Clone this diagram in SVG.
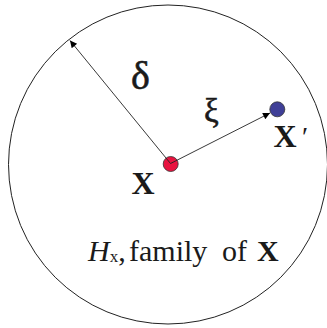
<svg xmlns="http://www.w3.org/2000/svg" width="327" height="328" viewBox="0 0 327 328">
<defs>
<marker id="arr" viewBox="0 0 10 10" refX="10" refY="5" markerWidth="9" markerHeight="7" markerUnits="userSpaceOnUse" orient="auto">
<path d="M0,0 L10,5 L0,10 z" fill="#000"/>
</marker>
<style>
.serif{font-family:"Liberation Serif","Times New Roman",serif;fill:#1a1a1a}
.b{font-weight:bold}
.hv{stroke:#1a1a1a;stroke-width:0.6}
.ln{stroke:#222;stroke-width:0.9;fill:none}
</style>
</defs>
<rect width="327" height="328" fill="#fff"/>
<g id="region">
<circle cx="168" cy="164.5" r="159.5" fill="none" stroke="#222" stroke-width="1"/>
</g>
<g id="node-x">
<circle cx="170.7" cy="164" r="7.5" fill="#e8133f" stroke="#333" stroke-width="0.8"/>
<text class="serif b" x="131.5" y="194" font-size="32">X</text>
</g>
<g id="node-xprime">
<circle cx="277.3" cy="109.3" r="7.5" fill="#3f3f97" stroke="#333" stroke-width="0.8"/>
<text class="serif b" x="273.5" y="146.7" font-size="32">X</text>
<text class="serif" x="302" y="146" font-size="28">′</text>
</g>
<g id="connectors">
<line class="ln" x1="170.5" y1="163.5" x2="70" y2="40.5" marker-end="url(#arr)"/>
<line class="ln" x1="170.5" y1="163.5" x2="270" y2="113" marker-end="url(#arr)"/>
</g>
<g id="labels">
<text class="serif hv" x="131" y="89" font-size="40">δ</text>
<text class="serif hv" x="204" y="122" font-size="33">ξ</text>
<text class="serif" y="261" font-size="30"><tspan x="88" font-style="italic">H</tspan><tspan font-size="17" dy="1">x</tspan><tspan dy="-1">,</tspan><tspan x="129">family</tspan><tspan x="222">of</tspan><tspan x="257" class="b">X</tspan></text>
</g>
</svg>
